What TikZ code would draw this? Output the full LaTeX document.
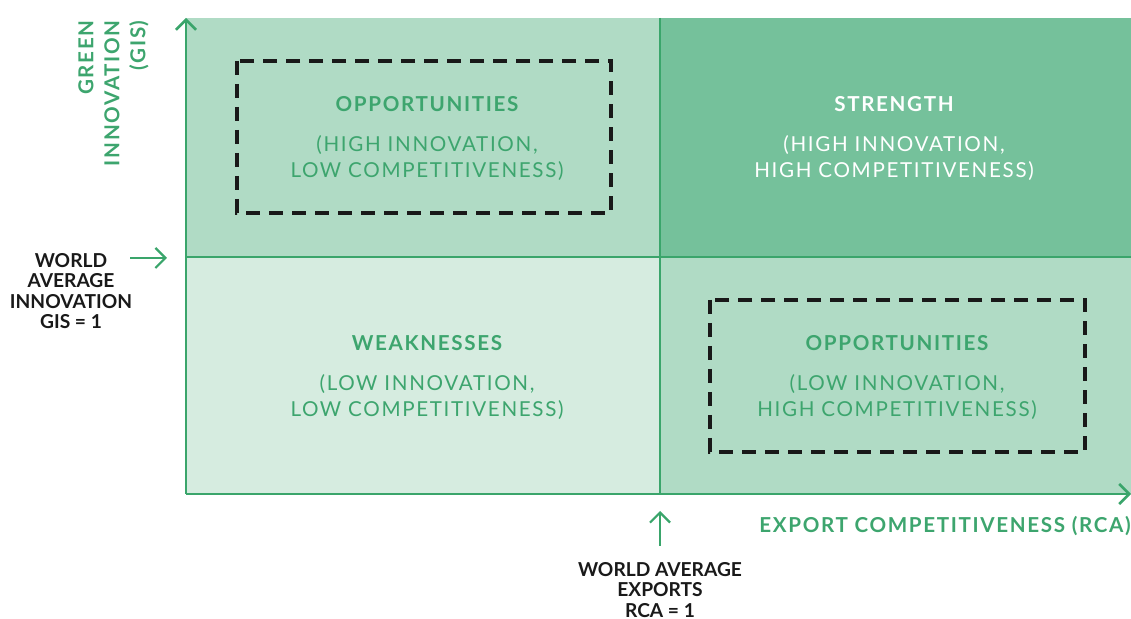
\documentclass[tikz,border=0pt]{standalone}
\usepackage{fontspec}
\setmainfont{Lato}
\newfontfamily\spaced[LetterSpace=8]{Lato}
\usetikzlibrary{arrows.meta,positioning}
\definecolor{gline}{HTML}{3AA56B}
\definecolor{gtext}{HTML}{3DA56E}
\definecolor{qlight}{HTML}{D6ECE0}
\definecolor{qmid}{HTML}{B0DBC5}
\definecolor{qdark}{HTML}{75C19B}

\begin{document}
\begin{tikzpicture}[x=0.5pt,y=-0.5pt,>={Straight Barb[length=5pt,width=10pt]}]
    \tikzstyle{every node}=[inner sep=0pt,align=center];
    \tikzstyle{axis}=[draw=gline,line width=1.25pt];
    \tikzstyle{pointer}=[->,draw=gline,line width=1.1pt];
    \tikzstyle{dashbox}=[draw=black!90,line width=2pt,dash pattern=on 7pt off 4.5pt];
    \tikzstyle{title}=[font=\spaced\bfseries\fontsize{10.3}{13}\selectfont];
    \tikzstyle{sub}=[font=\spaced\fontsize{10.3}{13}\selectfont];
    \tikzstyle{world}=[font=\bfseries\fontsize{9.6}{10.25}\selectfont,text=black!90];

    \useasboundingbox (0,0) rectangle (1131,619);

    % corners of the plot
    \coordinate (o) at (186,494);
    \coordinate (ytop) at (186,18);
    \coordinate (xend) at (1131,494);
    \coordinate (mid) at (660,257);

    % quadrants
    \fill[qmid] (186,18) rectangle (660,257);
    \fill[qdark] (660,18) rectangle (1131,257);
    \fill[qlight] (186,257) rectangle (660,494);
    \fill[qmid] (660,257) rectangle (1131,494);

    \draw[axis] (660,18) -- (660,494);
    \draw[axis] (186,257) -- (1131,257);
    \draw[axis,->] (o) -- (ytop);
    \draw[axis,->] (o) -- (xend);

    % dashed boxes
    \draw[dashbox] (237,61) rectangle (611,213);
    \draw[dashbox] (710,300) rectangle (1085,452);

    % quadrant texts
    \node[title,text=gtext] (opp1) at (427,104) {OPPORTUNITIES};
    \node[sub,text=gtext] (opp1s) at (427,158) {(HIGH INNOVATION,\\LOW COMPETITIVENESS)};
    \node[title,text=white] (str) at (894,104) {STRENGTH};
    \node[sub,text=white] (strs) at (894,158) {(HIGH INNOVATION,\\HIGH COMPETITIVENESS)};
    \node[title,text=gtext] (weak) at (427,343) {WEAKNESSES};
    \node[sub,text=gtext] (weaks) at (427,397) {(LOW INNOVATION,\\LOW COMPETITIVENESS)};
    \node[title,text=gtext] (opp2) at (897,343) {OPPORTUNITIES};
    \node[sub,text=gtext] (opp2s) at (897,397) {(LOW INNOVATION,\\HIGH COMPETITIVENESS)};

    % axis labels
    \node[title,text=gtext,rotate=90,align=right,anchor=north east] (ylab) at (78,20) {GREEN\\INNOVATION\\(GIS)};
    \node[title,text=gtext,anchor=east] (xlab) at (1131,526) {EXPORT COMPETITIVENESS (RCA)};

    % world averages
    \node[world] (wgis) at (71,291) {WORLD\\AVERAGE\\INNOVATION\\GIS = 1};
    \coordinate (gis) at (167,258);
    \draw[pointer] (130,258) -- (gis);
    \node[world] (wrca) at (660,590) {WORLD AVERAGE\\EXPORTS\\RCA = 1};
    \coordinate (rca) at (660,511);
    \draw[pointer] (660,546) -- (rca);
\end{tikzpicture}
\end{document}
